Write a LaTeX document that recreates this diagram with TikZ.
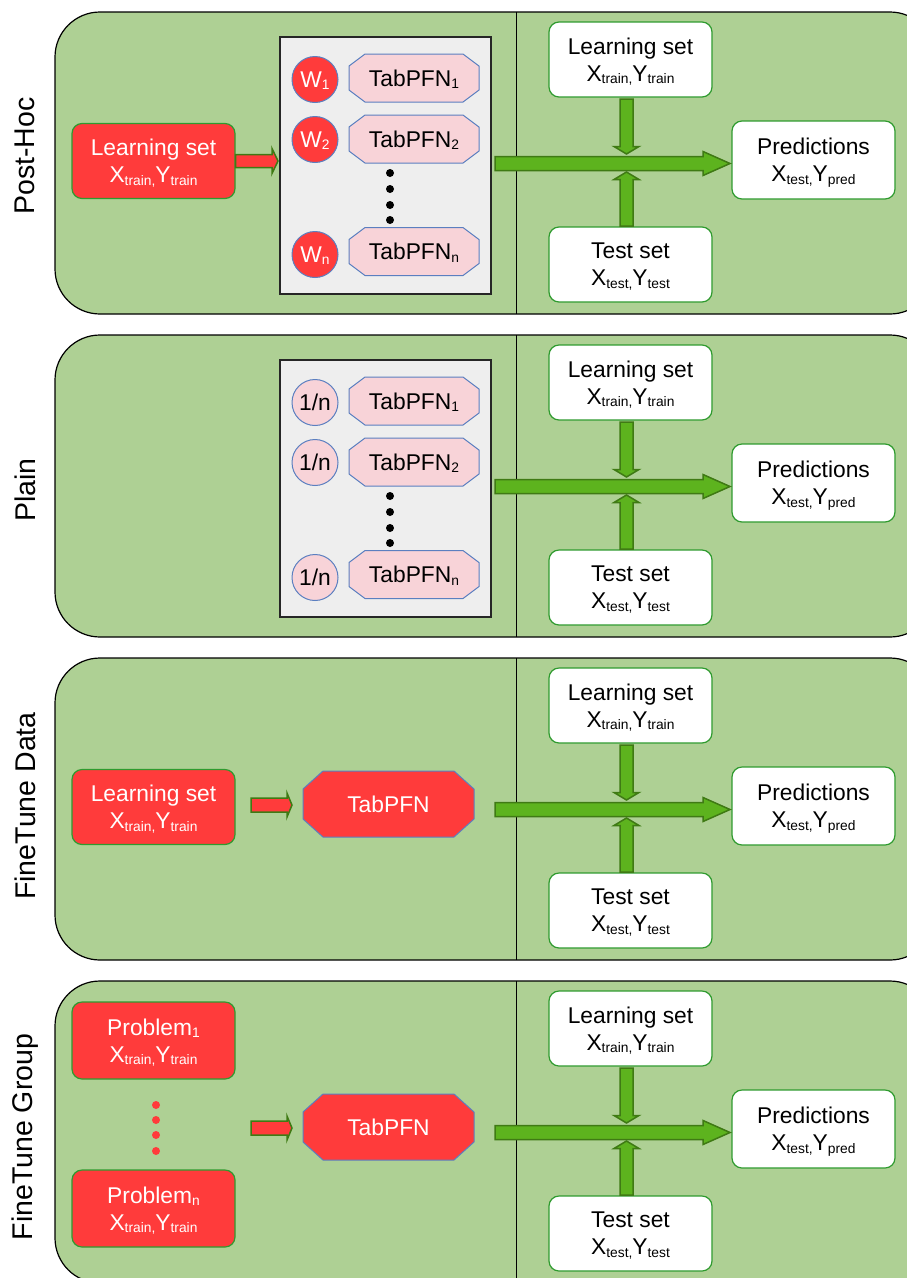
\documentclass[tikz,border=0pt]{standalone}
\usepackage{fontspec}
\setmainfont{Liberation Sans}
\usetikzlibrary{calc,positioning}
\definecolor{panelgreen}{HTML}{AED094}
\definecolor{setred}{HTML}{FF3B3B}
\definecolor{edgegreen}{HTML}{2F9B2F}
\definecolor{flowgreen}{HTML}{5DB31E}
\definecolor{flowdark}{HTML}{3F7A14}
\definecolor{poolgray}{HTML}{EEEEEE}
\definecolor{modelpink}{HTML}{F8D3D8}
\definecolor{modelblue}{HTML}{5B7FC0}
\newcommand{\lowsub}[1]{\raisebox{-2.5pt}[\height][0pt]{\fontsize{13.8}{14}\selectfont #1}}
% block arrow: style, from, to, half body, half head, head length
\newcommand{\blockarrow}[6]{%
  \path[#1] let \p1=(#2), \p2=(#3),
      \n1={veclen(\x2-\x1,\y2-\y1)}, \n2={atan2(\y2-\y1,\x2-\x1)} in
    {[shift={(\p1)}, rotate=\n2]
    (0,#4) -- ({\n1-#6},#4) -- ({\n1-#6},#5) -- (\n1,0)
    -- ({\n1-#6},-#5) -- ({\n1-#6},-#4) -- (0,-#4) -- cycle};}
% octagon node: style, name, centre, half width, half height, cut x, cut y, text
\newcommand{\octanode}[8]{%
  \path[#1, shift={(#3)}] ({-#4+#6},-#5) -- ({#4-#6},-#5) -- (#4,{-#5+#7})
    -- (#4,{#5-#7}) -- ({#4-#6},#5) -- ({-#4+#6},#5) -- (-#4,{#5-#7})
    -- (-#4,{-#5+#7}) -- cycle;
  \node[#1, draw=none, fill=none, minimum width={2*#4}, minimum height={2*#5}] (#2) at (#3) {#8};}
\tikzset{
  panel/.style={draw=black, line width=1.2pt, fill=panelgreen, rounded corners=45pt},
  divider/.style={draw=black, line width=1pt},
  side/.style={rotate=90, font=\fontsize{28.5}{30}\selectfont},
  redset/.style={
    rectangle,
    rounded corners=10pt,
    draw=edgegreen,
    fill=setred,
    line width=1.2pt,
    text=white,
    align=center,
    minimum width=163pt,
    minimum height=75pt,
    inner sep=0pt,
    font=\fontsize{22.8}{27}\selectfont
  },
  whiteset/.style={redset, fill=white, text=black},
  pool/.style={rectangle, draw=black!85, fill=poolgray, line width=1.6pt,
    minimum width=211pt, minimum height=257pt},
  member/.style={
    rectangle,
    draw=modelblue,
    fill=modelpink,
    line width=1pt,
    inner sep=0pt,
    font=\fontsize{22.8}{26}\selectfont
  },
  bigmodel/.style={member, fill=setred, text=white},
  weight/.style={circle, draw=modelblue, fill=setred, text=white, line width=1pt,
    minimum size=46pt, inner sep=0pt, font=\fontsize{22.8}{26}\selectfont},
  uniform/.style={weight, fill=modelpink, text=black},
  dot/.style={circle, fill=black, minimum size=8pt, inner sep=0pt},
  reddot/.style={dot, fill=setred},
  flow/.style={fill=flowgreen, draw=flowdark, line width=1.5pt},
  feed/.style={fill=setred, draw=flowdark, line width=1.5pt}
}
\begin{document}
\begin{tikzpicture}[x=1pt, y=-1pt, node distance=13pt and 11pt]
  \useasboundingbox (0,0) rectangle (907,1278);
  \clip (0,0) rectangle (907,1278);

  % rows: frame, sets and predictions
  \foreach \k/\dy/\ly/\rowname in {1/0/156/Post-Hoc, 2/323/490/Plain, 3/646/806/FineTune Data, 4/969/1137/FineTune Group}{
    \draw[panel] (55,{12+\dy}) rectangle (935,{314+\dy});
    \draw[divider] (516,{12+\dy}) -- (516,{314+\dy});
    \node[side] (row\k) at (25,\ly) {\rowname};
    \node[whiteset] (learn\k) at (630.5,{59.5+\dy}) {Learning set\\X\lowsub{train,}Y\lowsub{train}};
    \node[whiteset] (test\k) at (630.5,{264.5+\dy}) {Test set\\X\lowsub{test,}Y\lowsub{test}};
    \node[whiteset, minimum height=78pt] (pred\k) at (813.5,{160+\dy}) {Predictions\\X\lowsub{test,}Y\lowsub{pred}};
    \coordinate (ls\k) at (626.5,{99+\dy});
    \coordinate (ld\k) at (626.5,{154+\dy});
    \coordinate (ts\k) at (626.5,{226+\dy});
    \coordinate (tu\k) at (626.5,{172+\dy});
    \coordinate (ms\k) at (495,{163.5+\dy});
    \coordinate (me\k) at (730,{163.5+\dy});
    \blockarrow{flow}{ms\k}{me\k}{7}{12}{27}
    \blockarrow{flow}{ls\k}{ld\k}{6.5}{12.5}{7.5}
    \blockarrow{flow}{ts\k}{tu\k}{6.5}{12.5}{7.5}
  }

  % Post-Hoc
  \node[redset] (lset1) at (153.5,161) {Learning set\\X\lowsub{train,}Y\lowsub{train}};
  \node[pool] (pool1) at (385.5,165.5) {};
  \node[weight] (w1) at (315,79.5) {W\lowsub{1}};
  \node[weight, below=of w1] (w2) {W\lowsub{2}};
  \node[weight] (wn) at (315,254.5) {W\lowsub{n}};
  \octanode{member}{tab1}{414,78}{65}{24}{16}{12}{TabPFN\lowsub{1}}
  \octanode{member}{tab2}{414,139}{65}{24}{16}{12}{TabPFN\lowsub{2}}
  \octanode{member}{tabn}{414,251.5}{65}{24}{16}{12}{TabPFN\lowsub{n}}
  \foreach \i/\y in {1/173,2/189,3/205,4/220}
    \node[dot] (gapa\i) at (390,\y) {};
  \coordinate (fe1) at (278,161);
  \blockarrow{feed}{lset1.east}{fe1}{6.5}{12.5}{6}

  % Plain
  \node[pool] (pool2) at (385.5,488.5) {};
  \node[uniform] (u1) at (315,402.5) {1/n};
  \node[uniform, below=of u1] (u2) {1/n};
  \node[uniform] (un) at (315,577.5) {1/n};
  \octanode{member}{plain1}{414,401}{65}{24}{16}{12}{TabPFN\lowsub{1}}
  \octanode{member}{plain2}{414,462}{65}{24}{16}{12}{TabPFN\lowsub{2}}
  \octanode{member}{plainn}{414,574.5}{65}{24}{16}{12}{TabPFN\lowsub{n}}
  \foreach \i/\y in {1/496,2/512,3/528,4/543}
    \node[dot] (gapb\i) at (390,\y) {};

  % FineTune Data
  \node[redset] (lset3) at (153.5,807) {Learning set\\X\lowsub{train,}Y\lowsub{train}};
  \octanode{bigmodel}{model3}{388.5,804}{85.5}{33}{20}{18}{TabPFN}
  \coordinate (fs3) at (251,805);
  \coordinate (fe3) at (292,805);
  \blockarrow{feed}{fs3}{fe3}{7}{12}{5}

  % FineTune Group
  \node[redset, minimum height=77pt] (prob1) at (153.5,1040.5) {Problem\lowsub{1}\\X\lowsub{train,}Y\lowsub{train}};
  \node[redset, minimum height=77pt] (probn) at (153.5,1208.5) {Problem\lowsub{n}\\X\lowsub{train,}Y\lowsub{train}};
  \foreach \i/\y in {1/1105,2/1120,3/1135,4/1151}
    \node[reddot] (gapc\i) at (156,\y) {};
  \octanode{bigmodel}{model4}{388.5,1127}{85.5}{33}{20}{18}{TabPFN}
  \coordinate (fs4) at (251,1128);
  \coordinate (fe4) at (292,1128);
  \blockarrow{feed}{fs4}{fe4}{7}{12}{5}
\end{tikzpicture}
\end{document}
